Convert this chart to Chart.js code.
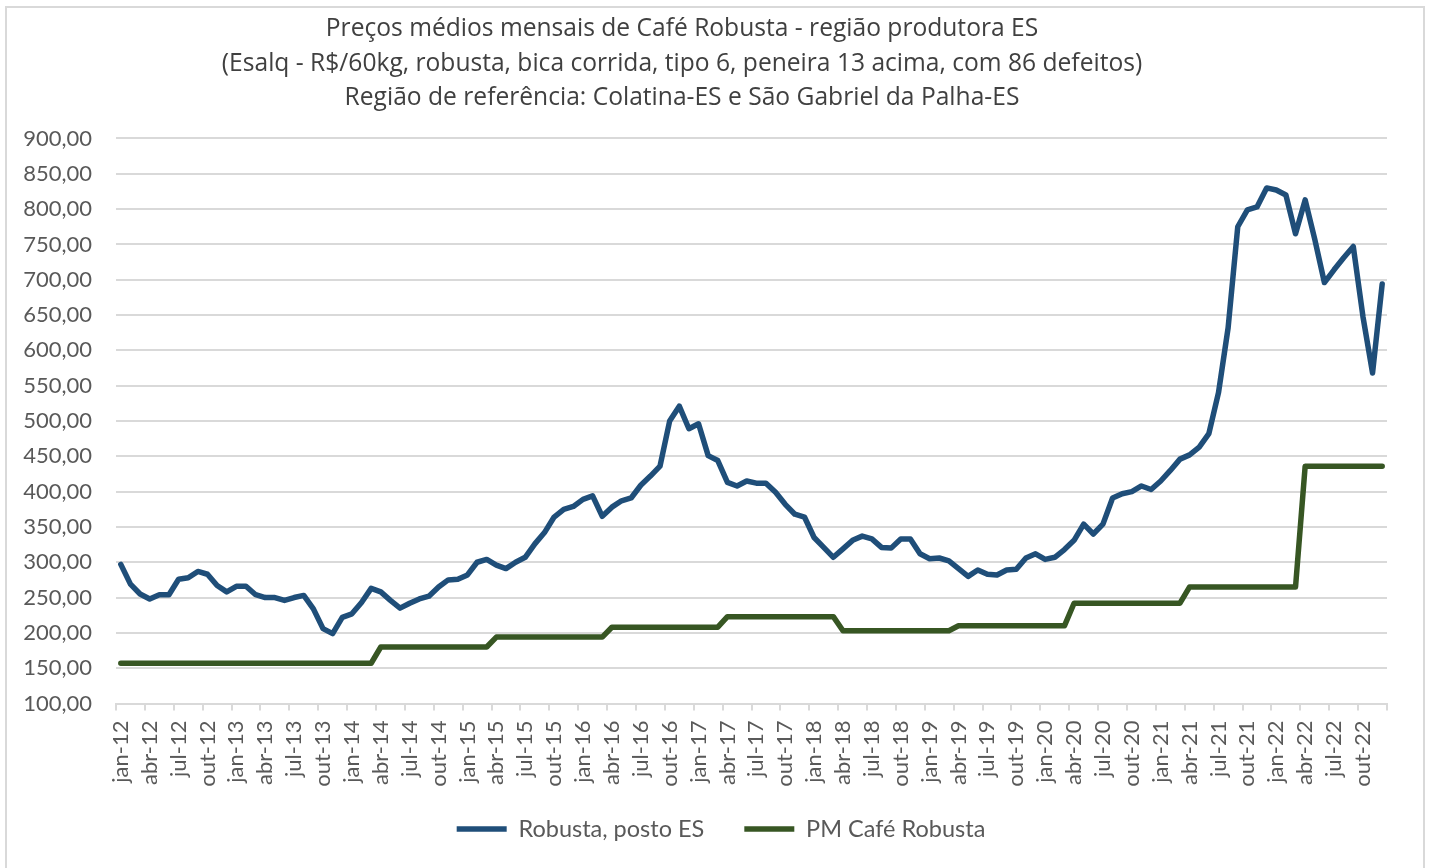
<!DOCTYPE html>
<html>
<head>
<meta charset="utf-8">
<script src="https://cdn.jsdelivr.net/npm/chart.js@4.4.1/dist/chart.umd.min.js"></script>
<style>
  body { margin: 0; background: #fff; }
  #wrap { position: relative; width: 1434px; height: 868px; }
  #frame { position: absolute; left: 5px; top: 6px; width: 1416px; height: 870px;
           border: 2px solid #d9d9d9; pointer-events: none; }
  canvas { position: absolute; left: 0; top: 0; }
</style>
</head>
<body>
<div id="wrap">
  <canvas id="chart" width="1434" height="868"></canvas>
  <div id="frame"></div>
</div>
<script>
// months / years for the category axis
var monthNames = ["jan", "fev", "mar", "abr", "mai", "jun", "jul", "ago", "set", "out", "nov", "dez"];
var years = ["12", "13", "14", "15", "16", "17", "18", "19", "20", "21", "22"];

var categories = [];
years.forEach(function (y) {
    monthNames.forEach(function (m) { categories.push(m + "-" + y); });
});

// Robusta, posto ES (R$/60kg) - jan-12 .. dez-22
var robustaES = [
    297, 269, 255, 248, 254, 254, 276, 278, 287, 283, 267, 258,   // 2012
    266, 266, 254, 250, 250, 246, 250, 253, 234, 206, 199, 222,   // 2013
    227, 243, 263, 258, 246, 235, 242, 248, 252, 265, 275, 276,   // 2014
    282, 300, 304, 296, 291, 300, 307, 326, 342, 364, 375, 379,   // 2015
    389, 394, 365, 378, 387, 391, 409, 422, 436, 500, 521, 489,   // 2016
    496, 451, 444, 413, 408, 415, 412, 412, 399, 382, 368, 364,   // 2017
    335, 321, 307, 319, 331, 337, 333, 321, 320, 333, 333, 312,   // 2018
    305, 306, 302, 291, 280, 289, 283, 282, 289, 290, 306, 312,   // 2019
    304, 307, 318, 331, 354, 340, 354, 391, 397, 400, 408, 403,   // 2020
    415, 430, 446, 452, 463, 482, 540, 632, 775, 799, 803, 830,   // 2021
    827, 820, 765, 813, 757, 696, 714, 731, 747, 648, 568, 694    // 2022
];

// PM Café Robusta (preço mínimo)
var pmRobusta = [
    157, 157, 157, 157, 157, 157, 157, 157, 157, 157, 157, 157,
    157, 157, 157, 157, 157, 157, 157, 157, 157, 157, 157, 157,
    157, 157, 157, 180, 180, 180, 180, 180, 180, 180, 180, 180,
    180, 180, 180, 194, 194, 194, 194, 194, 194, 194, 194, 194,
    194, 194, 194, 208, 208, 208, 208, 208, 208, 208, 208, 208,
    208, 208, 208, 223, 223, 223, 223, 223, 223, 223, 223, 223,
    223, 223, 223, 203, 203, 203, 203, 203, 203, 203, 203, 203,
    203, 203, 203, 210, 210, 210, 210, 210, 210, 210, 210, 210,
    210, 210, 210, 242, 242, 242, 242, 242, 242, 242, 242, 242,
    242, 242, 242, 265, 265, 265, 265, 265, 265, 265, 265, 265,
    265, 265, 265, 436, 436, 436, 436, 436, 436, 436, 436, 436
];

var titleLines = [
    "Preços médios mensais de Café Robusta - região produtora ES",
    "(Esalq - R$/60kg, robusta, bica corrida, tipo 6, peneira 13 acima, com 86 defeitos)",
    "Região de referência: Colatina-ES e São Gabriel da Palha-ES"
];

var FONT = "Lato, 'Open Sans', sans-serif";
var TITLE_FONT = "'Open Sans', Lato, sans-serif";
var GRID = "#d9d9d9";
var LEG_PAD = 40;
var LEG_SIZE = 23.5;

// Excel centres the title and legend a bit differently, move them after layout
var nudge = {
    id: 'nudge',
    afterLayout: function (chart) {
        var t = chart.titleBlock, l = chart.legend;
        var dt = 682 - (t.left + t.right) / 2;
        t.left += dt; t.right += dt;
        var dl = 721 - (l.left + l.right) / 2;
        l.left += dl; l.right += dl;
        var dy = 829 - (l.top + LEG_PAD + LEG_SIZE / 2);
        l.top += dy; l.bottom += dy;
    }
};

var ctx = document.getElementById('chart').getContext('2d');
var chart = new Chart(ctx, {
    type: 'line',
    data: {
        labels: categories,
        datasets: [
            {
                label: "Robusta, posto ES",
                data: robustaES,
                borderColor: "#1f4e79",
                backgroundColor: "#1f4e79",
                borderWidth: 5.5,
                pointRadius: 0,
                tension: 0,
                borderJoinStyle: 'round',
                borderCapStyle: 'round'
            },
            {
                label: "PM Café Robusta",
                data: pmRobusta,
                borderColor: "#375623",
                backgroundColor: "#375623",
                borderWidth: 5.5,
                pointRadius: 0,
                tension: 0,
                borderJoinStyle: 'round',
                borderCapStyle: 'round'
            }
        ]
    },
    options: {
        responsive: false,
        animation: false,
        devicePixelRatio: 1,
        layout: { padding: { left: 22, right: 47, top: 0, bottom: 0 } },
        plugins: {
            title: {
                display: true,
                text: titleLines,
                color: "#404040",
                font: { family: TITLE_FONT, size: 24.6, weight: 'normal', lineHeight: 1.402 },
                padding: { top: 12, bottom: 23 }
            },
            legend: {
                position: 'bottom',
                labels: {
                    usePointStyle: true,
                    pointStyle: 'line',
                    pointStyleWidth: 50,
                    padding: LEG_PAD,
                    color: "#595959",
                    font: { family: FONT, size: LEG_SIZE }
                }
            },
            tooltip: { enabled: false }
        },
        scales: {
            x: {
                offset: true,
                grid: {
                    offset: true,
                    drawOnChartArea: false,
                    drawTicks: true,
                    tickLength: 7,
                    lineWidth: 2,
                    color: function (c) {
                        return (c.index === undefined || c.index % 3 === 0) ? GRID : 'rgba(0,0,0,0)';
                    }
                },
                border: { display: true, color: GRID, width: 2 },
                ticks: {
                    autoSkip: false,
                    minRotation: 90,
                    maxRotation: 90,
                    padding: 10,
                    color: "#595959",
                    font: { family: FONT, size: 22 },
                    callback: function (v, i) { return i % 3 === 0 ? categories[i] : ''; }
                },
                afterFit: function (s) { s.height = 91; }
            },
            y: {
                min: 100,
                max: 900,
                grid: { color: GRID, lineWidth: 2, drawTicks: false },
                border: { display: false },
                ticks: {
                    stepSize: 50,
                    padding: 24,
                    color: "#595959",
                    font: { family: FONT, size: 22 },
                    callback: function (v) { return v.toFixed(2).replace('.', ','); }
                },
                afterFit: function (s) { s.width = 94; }
            }
        }
    },
    plugins: [nudge]
});
</script>
</body>
</html>
